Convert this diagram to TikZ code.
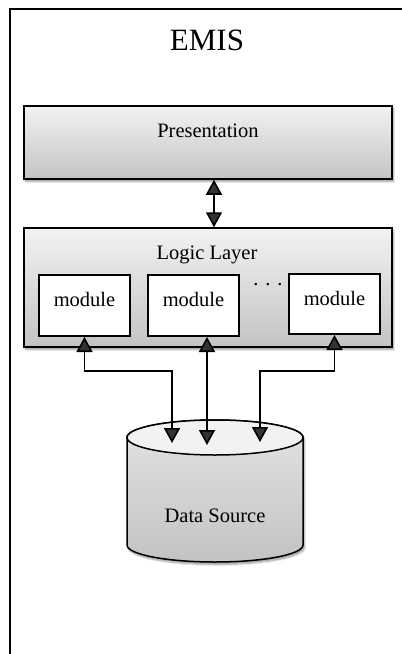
\documentclass[tikz,border=0pt]{standalone}
\usepackage{fontspec}
\setmainfont{Liberation Serif}
\usetikzlibrary{arrows.meta,shadows.blur,positioning}

\begin{document}
\begin{tikzpicture}[x=1pt, y=-1pt,
  tier/.style={draw, line width=1.5pt, top color=gray!10, bottom color=gray!47,
    blur shadow={shadow blur steps=6, shadow xshift=1.5pt, shadow yshift=-2.5pt},
    minimum width=368pt, inner sep=0pt},
  module/.style={draw, line width=2pt, fill=white, minimum width=91pt,
    minimum height=61pt, inner sep=0pt, text height=14pt, text depth=12pt},
  link/.style={line width=1.6pt, >={Triangle[length=15pt,width=16pt]}, <->},
  lbl/.style={font=\fontsize{20.5}{24}\selectfont}]
  \useasboundingbox (0,0) rectangle (402,654);
  \draw[line width=2pt] (10,660) -- (10,9) -- (410,9);
  \node[font=\fontsize{31}{36}\selectfont, anchor=base] (emis) at (207,50) {EMIS};

  % layers
  \node[tier, lbl, minimum height=73pt, text height=14pt, text depth=25pt] (pres) at (208,142.5) {Presentation};
  \node[tier, minimum height=119pt] (logic) at (208,287.5) {};
  \node[lbl, anchor=base] (logictxt) at (207,259) {Logic Layer};
  \node[module, lbl] (m1) at (84.5,305.5) {module};
  \node[module, lbl] (m2) at (193.5,305.5) {module};
  \node[module, lbl, minimum height=60pt] (m3) at (334.5,304) {module};
  \node[lbl, anchor=base] (dots) at (268,285) {. . .};

  % data source
  \path[draw, line width=1.5pt, top color=gray!22, bottom color=gray!47,
    blur shadow={shadow blur steps=6, shadow xshift=1.5pt, shadow yshift=-2.5pt}]
    (127,437.5) -- (127,545) arc[start angle=180, end angle=360, x radius=88pt, y radius=17pt]
    -- (303,437.5) arc[start angle=0, end angle=180, x radius=88pt, y radius=17.5pt] -- cycle;
  \draw[line width=1.5pt, fill=gray!10] (215,437.5) ellipse[x radius=88pt, y radius=17.5pt];
  \node[lbl, anchor=base] (ds) at (215,522) {Data Source};
  \coordinate (db1) at (172,443);
  \coordinate (db2) at (207,445);
  \coordinate (db3) at (260,442);

  % links
  \draw[link] ([xshift=6pt]pres.south) -- ([xshift=6pt]logic.north);
  \draw[link] (m1.south) |- (172,371) -- (db1);
  \draw[link] (m2.south -| db2) -- (db2);
  \draw[link] (m3.south) |- (260,371) -- (db3);
\end{tikzpicture}
\end{document}
